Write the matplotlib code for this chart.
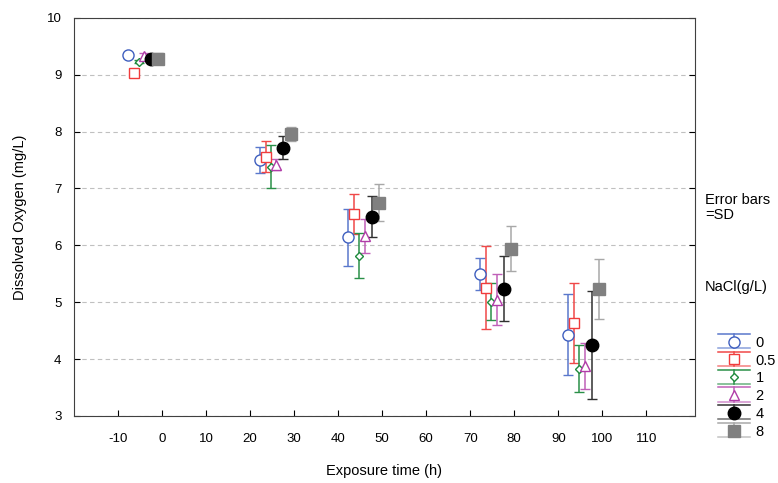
import matplotlib
matplotlib.use("Agg")
import matplotlib.pyplot as plt
from matplotlib.lines import Line2D
from matplotlib.legend_handler import HandlerBase

plt.rcParams["font.family"] = ["Liberation Sans", "DejaVu Sans"]
plt.rcParams["axes.unicode_minus"] = False

# Données
times = [0, 30, 50, 80, 100]
nacl_labels = ["0", "0.5", "1", "2", "4", "8"]

do_0   = [9.34, 7.50, 6.14, 5.50, 4.43]
do_05  = [9.03, 7.56, 6.55, 5.25, 4.63]
do_1   = [9.23, 7.38, 5.82, 5.01, 3.83]
do_2   = [9.33, 7.42, 6.16, 5.04, 3.88]
do_4   = [9.27, 7.72, 6.50, 5.24, 4.24]
do_8   = [9.28, 7.96, 6.75, 5.94, 5.23]

sd_0   = [0.05, 0.23, 0.50, 0.28, 0.72]
sd_05  = [0.00, 0.27, 0.35, 0.73, 0.70]
sd_1   = [0.03, 0.38, 0.40, 0.33, 0.41]
sd_2   = [0.05, 0.10, 0.30, 0.45, 0.41]
sd_4   = [0.05, 0.20, 0.36, 0.58, 0.95]
sd_8   = [0.10, 0.12, 0.33, 0.40, 0.53]

means = [do_0, do_05, do_1, do_2, do_4, do_8]
sds   = [sd_0, sd_05, sd_1, sd_2, sd_4, sd_8]

# style par série : marqueur, taille, couleur, remplissage, couleur barre
offsets = [-7.8, -6.4, -5.2, -4.0, -2.4, -0.8]
STYLES = [
    ("o", 8.0, "#3f5fbf", "white",   "#5a78cc"),
    ("s", 7.5, "#f03c3c", "white",   "#f04848"),
    ("D", 4.0, "#1e8a3c", "white",   "#2a9048"),
    ("^", 6.5, "#b03ca8", "white",   "#c060b8"),
    ("o", 9.0, "black",   "black",   "#303030"),
    ("s", 8.0, "#808080", "#808080", "#a8a8a8"),
]


class HandlerBarre(HandlerBase):
    """Poignée de légende façon Statistica : trait haut, marqueur, trait bas."""
    def __init__(self, style):
        super().__init__()
        self.style = style

    def create_artists(self, legend, orig_handle, xdescent, ydescent,
                       width, height, fontsize, trans):
        marker, ms, mc, fc, ec = self.style
        x0, x1 = -xdescent, -xdescent + width
        xm = (x0 + x1) / 2
        yt = -ydescent + height * 1.25
        yb = -ydescent - height * 0.15
        ym = -ydescent + height * 0.5
        top = Line2D([x0, x1], [yt, yt], color=ec, lw=1.1, transform=trans)
        bot = Line2D([x0, x1], [yb, yb], color=ec, lw=1.1, alpha=0.7,
                     transform=trans)
        stem = Line2D([xm, xm], [yt, yb], color=ec, lw=1.1, transform=trans)
        mk = Line2D([xm], [ym], marker=marker, ms=ms, mec=mc, mfc=fc,
                    mew=1.0, ls="none", transform=trans)
        return [stem, top, bot, mk]


fig = plt.figure(figsize=(7.78, 4.83), dpi=100, facecolor="white")
ax = fig.add_axes([0.095, 0.139, 0.798, 0.824])

handles = []
for i, label in enumerate(nacl_labels):
    marker, ms, mc, fc, ec = STYLES[i]
    xs = [t + offsets[i] for t in times]
    cont = ax.errorbar(xs, means[i], yerr=sds[i], fmt=marker, ms=ms,
                       mec=mc, mfc=fc, mew=1.0, ecolor=ec, elinewidth=1.1,
                       capsize=3.5, capthick=1.1, label=label, zorder=3)
    handles.append(cont)

ax.set_xlim(-20, 121)
ax.set_ylim(3, 10)
ax.set_xticks(range(-10, 111, 10))
ax.set_yticks(range(3, 11))
ax.tick_params(direction="in", length=4, labelsize=9.5, right=True, top=False)
ax.tick_params(axis="x", pad=12)
ax.tick_params(axis="y", pad=9)
ax.yaxis.grid(True, color="#c0c0c0", linestyle=(0, (4, 3)), linewidth=0.8)
ax.set_axisbelow(True)
for sp in ax.spines.values():
    sp.set_color("#404040")

ax.set_xlabel("Exposure time (h)", fontsize=10.5, labelpad=14)
ax.set_ylabel("Dissolved Oxygen (mg/L)", fontsize=10.5, labelpad=14)

fig.text(0.906, 0.60, "Error bars\n=SD", fontsize=10.5, va="top", ha="left",
         linespacing=1.1)
fig.text(0.906, 0.405, "NaCl(g/L)", fontsize=10.5, va="center", ha="left")

fig.legend(handles, nacl_labels, loc="upper left",
           bbox_to_anchor=(0.915, 0.317), frameon=False,
           fontsize=10.5, handlelength=2.2, labelspacing=0.26,
           handletextpad=0.4, borderaxespad=0,
           handler_map={h: HandlerBarre(STYLES[i]) for i, h in enumerate(handles)})

plt.savefig("out.png", dpi=100, facecolor="white")
plt.close()
